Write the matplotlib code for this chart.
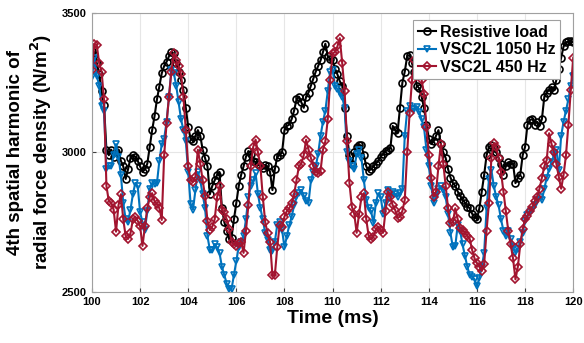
import numpy as np
import matplotlib.pyplot as plt

plt.rcParams['font.family'] = ['Liberation Sans', 'DejaVu Sans']
plt.rcParams['font.weight'] = 'bold'
plt.rcParams['mathtext.default'] = 'bf'

# time axis, 0.1 ms sampling
t = np.round(np.linspace(100, 120, 201), 1)

# resistive load
res_load = [
    3365, 3350, 3320, 3280, 3220, 3170, 3010, 2990, 3010, 2985,
    3000, 3010, 2970, 2950, 2905, 2940, 2980, 2990, 2985, 2970,
    2950, 2930, 2940, 2960, 3020, 3080, 3130, 3190, 3236, 3284,
    3310, 3325, 3345, 3360, 3355, 3320, 3290, 3260, 3224, 3160,
    3090, 3050, 3040, 3060, 3080, 3060, 3010, 2980, 2950, 2850,
    2880, 2900, 2920, 2930, 2800, 2750, 2720, 2690, 2695, 2760,
    2820, 2880, 2920, 2950, 2985, 3005, 2995, 2970, 2965, 2960,
    2950, 2945, 2955, 2950, 2930, 2865, 2940, 2985, 2990, 3000,
    3080, 3095, 3100, 3120, 3150, 3190, 3200, 3180, 3160, 3200,
    3215, 3240, 3265, 3290, 3310, 3330, 3360, 3390, 3345, 3335,
    3330, 3300, 3280, 3255, 3240, 3160, 3060, 2990, 2960, 3000,
    3020, 3025, 3025, 2990, 2950, 2935, 2940, 2950, 2960, 2970,
    2985, 2995, 3005, 3010, 3015, 3095, 3080, 3070, 3160, 3250,
    3290, 3345, 3350, 3320, 3290, 3240, 3230, 3200, 3160, 3100,
    3050, 3030, 3040, 3060, 3080, 3030, 3000, 2980, 2940, 2910,
    2890, 2880, 2860, 2845, 2830, 2820, 2806, 2800, 2780, 2770,
    2760, 2800, 2860, 2920, 2990, 3020, 3026, 3015, 3000, 2980,
    2960, 2920, 2950, 2965, 2960, 2960, 2890, 2910, 2920, 2990,
    3020, 3100, 3116, 3120, 3100, 3110, 3095, 3120, 3200, 3215,
    3225, 3235, 3225, 3260, 3300, 3340, 3380, 3395, 3398, 3400,
    3395,
]

# VSC2L 1050 Hz
vsc_1050 = [
    3270, 3340, 3275, 3240, 3165, 3150, 2940, 2950, 2950, 2990,
    3030, 2985, 2920, 2820, 2760, 2750, 2795, 2850, 2890, 2880,
    2785, 2750, 2722, 2790, 2870, 2890, 2888, 2890, 2970, 3030,
    3050, 3110, 3200, 3296, 3285, 3240, 3180, 3120, 3080, 3040,
    2930, 2815, 2795, 2866, 2930, 2900, 2850, 2800, 2700, 2650,
    2650, 2670, 2660, 2640, 2590, 2560, 2530, 2510, 2510, 2560,
    2610, 2662, 2680, 2700, 2760, 2840, 2880, 2900, 2925, 2850,
    2800, 2760, 2710, 2685, 2650, 2645, 2680, 2740, 2750, 2722,
    2660, 2700, 2740, 2770, 2810, 2840, 2855, 2866, 2845, 2825,
    2820, 2900, 2930, 2950, 2995, 3060, 3110, 3150, 3220, 3290,
    3296, 3240, 3228, 3215, 3200, 3160, 3000, 2970, 2950, 2940,
    2995, 3010, 2980, 2900, 2830, 2800, 2790, 2746, 2820, 2854,
    2840, 2780, 2820, 2866, 2842, 2860, 2850, 2842, 2855, 2870,
    3060, 3150, 3165, 3155, 3155, 3164, 3145, 3120, 3090, 3010,
    2950, 2880, 2818, 2845, 2870, 2878, 2866, 2840, 2780, 2710,
    2660, 2665, 2740, 2720, 2670, 2630, 2590, 2560, 2555, 2545,
    2520, 2550, 2590, 2640, 2800, 2905, 2937, 2880, 2840, 2810,
    2760, 2720, 2700, 2720, 2690, 2660, 2640, 2655, 2680, 2710,
    2755, 2775, 2785, 2794, 2810, 2830, 2842, 2830, 2870, 2910,
    2940, 2965, 2990, 3010, 2937, 3060, 3110, 3150, 3190, 3240,
    3275,
]

# VSC2L 450 Hz
vsc_450 = [
    3295, 3390, 3385, 3320, 3290, 3190, 2880, 2825, 2820, 2795,
    2716, 2810, 2850, 2760, 2700, 2690, 2710, 2760, 2770, 2755,
    2735, 2665, 2735, 2800, 2840, 2854, 2825, 2815, 2800, 2758,
    2990, 3104, 3200, 3290, 3355, 3330, 3310, 3280, 3200, 3080,
    2950, 2900, 2895, 2913, 3010, 2960, 2900, 2845, 2755, 2722,
    2734, 2760, 2840, 2880, 2794, 2785, 2760, 2725, 2680, 2670,
    2665, 2675, 2680, 2640, 2720, 2810, 2950, 3020, 3046, 3000,
    2950, 2840, 2750, 2710, 2680, 2560, 2560, 2660, 2740, 2734,
    2770, 2790, 2800, 2818, 2850, 2900, 2950, 2960, 2990, 3046,
    3010, 2980, 2950, 2930, 2925, 2935, 3010, 3040, 3120, 3260,
    3355, 3360, 3380, 3410, 3320, 3220, 3040, 2890, 2806, 2780,
    2712, 2780, 2840, 2854, 2760, 2700, 2688, 2698, 2725, 2734,
    2722, 2712, 2790, 2860, 2840, 2810, 2794, 2765, 2770, 2790,
    2830, 3000, 3140, 3260, 3330, 3325, 3300, 3260, 3210, 3090,
    2990, 2910, 2842, 2860, 2950, 3030, 2960, 2880, 2800, 2746,
    2750, 2800, 2760, 2730, 2722, 2712, 2700, 2690, 2650, 2620,
    2603, 2590, 2575, 2600, 2720, 2820, 2980, 3034, 3020, 2980,
    2930, 2860, 2790, 2720, 2670, 2620, 2545, 2590, 2670, 2725,
    2760, 2772, 2790, 2805, 2825, 2842, 2870, 2910, 2950, 2973,
    3069, 3030, 3000, 2960, 2913, 2870, 2920, 2990, 3100, 3224,
    3340,
]

fig = plt.figure(figsize=(5.84, 3.43), dpi=100)
ax = fig.add_axes([0.1575, 0.149, 0.824, 0.813])

ax.plot(t, res_load, color='black', marker='o', ms=5, mfc='none',
        mew=1.2, lw=1.5, label='Resistive load')
ax.plot(t, vsc_1050, color='#0072BD', marker='v', ms=5, mfc='none',
        mew=1.2, lw=1.5, label='VSC2L 1050 Hz')
ax.plot(t, vsc_450, color='#A2142F', marker='D', ms=4, mfc='none',
        mew=1.2, lw=1.5, label='VSC2L 450 Hz')

ax.set_xlim(100, 120)
ax.set_ylim(2500, 3500)
ax.set_xticks(np.arange(100, 121, 2))
ax.set_yticks([2500, 3000, 3500])
ax.grid(True, color='#e6e6e6', lw=0.8)
ax.set_axisbelow(True)
ax.tick_params(direction='in', labelsize=8, length=3, color='#404040')
for s in ax.spines.values():
    s.set_color('#a0a0a0')

ax.set_xlabel('Time (ms)', fontsize=14, fontweight='bold', labelpad=2)
ax.set_ylabel('4th spatial harmonic of\nradial force density (N/m$^2$)',
              fontsize=13.5, fontweight='bold', labelpad=6)

leg = ax.legend(loc='upper right', bbox_to_anchor=(0.973, 0.975),
                fontsize=11.5, handlelength=1.1, handletextpad=0.25,
                borderpad=0.3, labelspacing=0.15, fancybox=False,
                framealpha=1, borderaxespad=0)
leg.get_frame().set_edgecolor('#a0a0a0')
leg.get_frame().set_linewidth(0.8)

plt.savefig('out.png', dpi=100)
